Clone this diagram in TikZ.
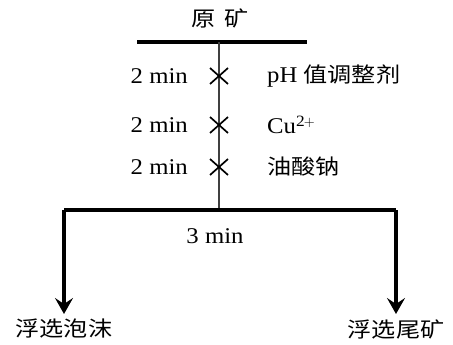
\documentclass[tikz,border=0pt]{standalone}
\usepackage{fontspec}
\setmainfont{Liberation Serif}[FakeStretch=1.1]
\newfontfamily\cjk{Noto Sans CJK SC}[FakeStretch=1.15]
\usetikzlibrary{arrows.meta,calc}
\begin{document}
\begin{tikzpicture}[x=1pt,y=-1pt,
  lbl/.style={inner sep=0pt,font=\fontsize{22.5}{26}\selectfont},
  cn/.style={inner sep=0pt,font=\fontsize{21}{24}\selectfont\cjk},
  bar/.style={line width=3.2pt},
  stem/.style={line width=2pt,draw=black!75},
  crossmark/.style={line width=1.7pt},
  flow/.style={line width=3.2pt,-{Stealth[length=16pt,width=18pt,inset=6pt]}}]
\useasboundingbox (0,0) rectangle (453,345);
% title
\node[cn] (feed) at (220,18) {原\hspace{0.4em}矿};
% top bar
\coordinate (tl) at (137,42);
\coordinate (tr) at (307,42);
\coordinate (tm) at (219,42);
\draw[bar] (tl) -- (tr);
% bottom bar
\coordinate (bl) at (64,210);
\coordinate (br) at (396,210);
\coordinate (bm) at (219,210);
\draw[stem] (tm) -- (bm);
\draw[bar] (bl) -- (br);
% crosses and labels
\foreach \i/\yy in {1/76,2/125,3/167}{
  \coordinate (x\i) at (219,\yy);
  \draw[crossmark] ($(x\i)+(-9,-8)$) -- ($(x\i)+(9,8)$);
  \draw[crossmark] ($(x\i)+(-9,8)$) -- ($(x\i)+(9,-8)$);
  \node[lbl,anchor=east] (t\i) at (188,\yy) {2 min};
}
\node[anchor=west,inner sep=0pt] (r1) at (267,76) {\fontsize{22.5}{26}\selectfont pH {\fontsize{21}{24}\selectfont\cjk 值调整剂}};
\node[lbl,anchor=west] (r2) at (267,125) {Cu$^{\mathrm{2+}}$};
\node[cn,anchor=west] (r3) at (267,167) {油酸钠};
\node[lbl] (t4) at (215,236) {3 min};
% outputs
\node[cn] (froth) at (64,329) {浮选泡沫};
\node[cn] (tail) at (396,329) {浮选尾矿};
\coordinate (fa) at (64,314);
\coordinate (ta) at (396,314);
\draw[flow] (bl) -- (fa);
\draw[flow] (br) -- (ta);
\end{tikzpicture}
\end{document}
